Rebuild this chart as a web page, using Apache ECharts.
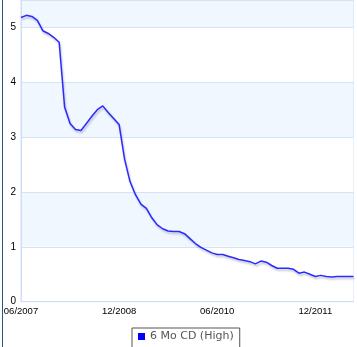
<!DOCTYPE html>
<html>
<head>
<meta charset="utf-8">
<script src="https://cdn.jsdelivr.net/npm/echarts@6/dist/echarts.min.js"></script>
<style>
html,body{margin:0;padding:0;background:#fff;}
#c{width:357px;height:347px;}
</style>
</head>
<body>
<div id="c"></div>
<script>
const categories = [
 '06/2007','07/2007','08/2007','09/2007','10/2007','11/2007','12/2007',
 '01/2008','02/2008','03/2008','04/2008','05/2008','06/2008','07/2008','08/2008','09/2008','10/2008','11/2008','12/2008',
 '01/2009','02/2009','03/2009','04/2009','05/2009','06/2009','07/2009','08/2009','09/2009','10/2009','11/2009','12/2009',
 '01/2010','02/2010','03/2010','04/2010','05/2010','06/2010','07/2010','08/2010','09/2010','10/2010','11/2010','12/2010',
 '01/2011','02/2011','03/2011','04/2011','05/2011','06/2011','07/2011','08/2011','09/2011','10/2011','11/2011','12/2011',
 '01/2012','02/2012','03/2012','04/2012','05/2012','06/2012','07/2012'
];
const seriesName = '6 Mo CD (High)';
const cdHigh = [5.18,5.22,5.20,5.13,4.94,4.89,4.82,4.73,3.55,3.25,3.14,3.12,3.25,3.38,3.50,3.57,3.45,3.34,3.23,2.60,2.19,1.95,1.78,1.70,1.53,1.40,1.33,1.29,1.28,1.28,1.24,1.15,1.06,0.99,0.94,0.89,0.86,0.86,0.83,0.80,0.77,0.75,0.73,0.69,0.74,0.72,0.66,0.61,0.61,0.61,0.59,0.52,0.54,0.50,0.46,0.48,0.46,0.45,0.46,0.46,0.46,0.46];
const yTicks = {min: 0, max: 5.5, interval: 1};

const chart = echarts.init(document.getElementById('c'), null, {renderer: 'canvas'});
chart.setOption({
  animation: false,
  backgroundColor: '#ffffff',
  grid: {left: 21, right: 3.5, top: -2.7, bottom: 45.3, show: true, borderColor: '#d0def5', borderWidth: 1, backgroundColor: 'transparent'},
  graphic: [{type: 'rect', left: 2, top: 0, shape: {width: 1, height: 347}, style: {fill: '#1f5a78'}, z: 100}],
  legend: {
    left: 132, top: 328, orient: 'horizontal',
    padding: [3, 6, 10, 6],
    backgroundColor: '#ffffff', borderColor: '#555555', borderWidth: 1,
    icon: 'rect', itemWidth: 7, itemHeight: 7,
    textStyle: {fontFamily: 'DejaVu Sans', fontSize: 11, color: '#555555'},
    data: [seriesName]
  },
  xAxis: {
    type: 'category', data: categories, boundaryGap: false,
    axisLine: {show: true, lineStyle: {color: '#d0def5'}},
    axisTick: {show: false},
    axisLabel: {interval: 17, margin: 5, color: '#000', fontFamily: 'Liberation Sans', fontSize: 9.5},
    splitLine: {show: false}
  },
  yAxis: {
    type: 'value', min: yTicks.min, max: yTicks.max, interval: yTicks.interval,
    axisLine: {show: true, lineStyle: {color: '#d0def5'}},
    axisTick: {show: false},
    axisLabel: {margin: 5, color: '#000', fontFamily: 'Liberation Sans', fontSize: 10, showMaxLabel: false},
    splitLine: {show: true, lineStyle: {color: '#d5e3f5', width: 1}},
    splitArea: {show: true, areaStyle: {color: ['#ffffff', '#f0f7fe']}}
  },
  series: [{
    name: seriesName, type: 'line', data: cdHigh, symbol: 'none',
    itemStyle: {color: '#0000ff'},
    lineStyle: {color: '#2a2aff', width: 1.5, shadowColor: 'rgba(0,0,60,0.25)', shadowBlur: 2, shadowOffsetY: 2, shadowOffsetX: 1}
  }]
});
</script>
</body>
</html>
